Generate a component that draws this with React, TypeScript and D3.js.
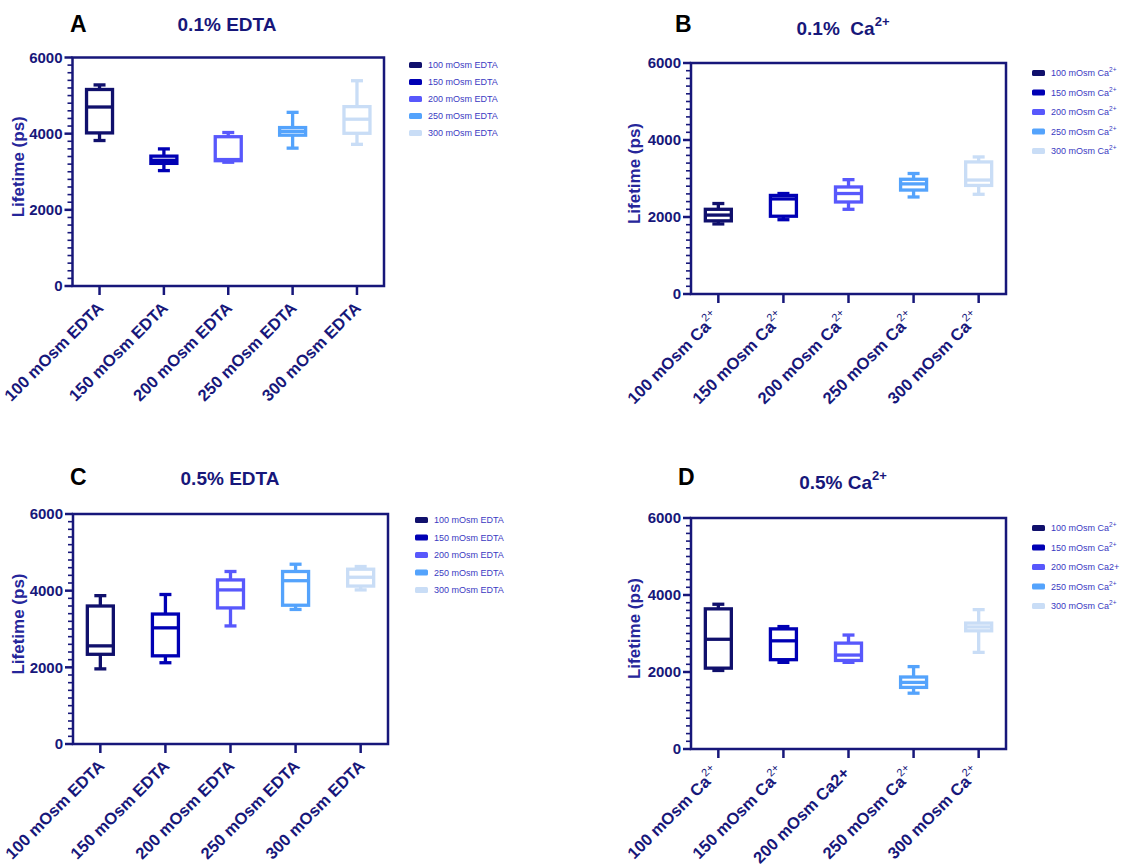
import React from "react";
import * as d3 from "d3";

// Category labels
const edtaLabels = ["100 mOsm EDTA", "150 mOsm EDTA", "200 mOsm EDTA", "250 mOsm EDTA", "300 mOsm EDTA"];
const caLabels = ["100 mOsm Ca", "150 mOsm Ca", "200 mOsm Ca", "250 mOsm Ca", "300 mOsm Ca"];
const caSups = ["2+", "2+", "2+", "2+", "2+"];
const caLabelsD = ["100 mOsm Ca", "150 mOsm Ca", "200 mOsm Ca2+", "250 mOsm Ca", "300 mOsm Ca"];
const caSupsD = ["2+", "2+", "", "2+", "2+"];
const noSups = ["", "", "", "", ""];

// Y axis ticks
const yMajorTicks = [0, 2000, 4000, 6000];
const yMinorStep = 200;
const yMax = 6000;

// Box summaries per group: [min, q1, median, q3, max] in ps
const edta01 = [
  [3820, 4020, 4700, 5160, 5280],
  [3030, 3220, 3300, 3410, 3600],
  [3250, 3290, 3320, 3920, 4030],
  [3620, 3960, 4060, 4160, 4560],
  [3720, 4010, 4380, 4710, 5390],
];
const ca01 = [
  [1820, 1900, 2050, 2200, 2350],
  [1930, 2020, 2470, 2560, 2610],
  [2200, 2390, 2610, 2780, 2970],
  [2520, 2700, 2860, 2980, 3130],
  [2590, 2820, 2960, 3430, 3560],
];
const edta05 = [
  [1960, 2340, 2560, 3600, 3870],
  [2120, 2300, 3030, 3390, 3900],
  [3080, 3550, 4020, 4280, 4500],
  [3510, 3620, 4260, 4500, 4690],
  [4020, 4120, 4350, 4560, 4630],
];
const ca05 = [
  [2040, 2100, 2850, 3640, 3760],
  [2250, 2320, 2810, 3120, 3180],
  [2250, 2300, 2440, 2750, 2960],
  [1450, 1600, 1730, 1870, 2140],
  [2510, 3070, 3170, 3270, 3620],
];

const NAVY = "#17177a";
const AXIS_TITLE = "#26269a";
const LEGEND_TEXT = "#3a3ac2";
const BOX_COLORS = ["#10106c", "#0000b4", "#5858fc", "#54a3fc", "#c9ddf6"];
const FONT = "'Liberation Sans', Arial, Helvetica, sans-serif";

type PanelSpec = {
  letter: string;
  title: string;
  titleSup: string;
  titleX: number;
  titleY: number;
  letterX: number;
  letterY: number;
  labels: string[];
  sups: string[];
  legendLabels: string[];
  legendSups: string[];
  stats: number[][];
  x0: number;
  x1: number;
  y0: number;
  y1: number;
  legendX: number;
  legendY: number;
  legendGap: number;
  labelDx: number;
  labelDy: number;
  axisTitleX: number;
};

const panels: PanelSpec[] = [
  {
    letter: "A", title: "0.1% EDTA", titleSup: "", titleX: 227, titleY: 31, letterX: 70, letterY: 32,
    labels: edtaLabels, sups: noSups, legendLabels: edtaLabels, legendSups: noSups, stats: edta01,
    x0: 72.5, x1: 384, y0: 57.5, y1: 286, legendX: 409, legendY: 65, legendGap: 17,
    labelDx: 5, labelDy: 23, axisTitleX: 24,
  },
  {
    letter: "B", title: "0.1%\u00a0 Ca", titleSup: "2+", titleX: 843, titleY: 35, letterX: 675, letterY: 32,
    labels: caLabels, sups: caSups, legendLabels: caLabels, legendSups: caSups, stats: ca01,
    x0: 691, x1: 1006, y0: 63, y1: 294, legendX: 1032, legendY: 73, legendGap: 19.5,
    labelDx: 2, labelDy: 25, axisTitleX: 640,
  },
  {
    letter: "C", title: "0.5% EDTA", titleSup: "", titleX: 230, titleY: 485, letterX: 70, letterY: 485,
    labels: edtaLabels, sups: noSups, legendLabels: edtaLabels, legendSups: noSups, stats: edta05,
    x0: 73, x1: 388, y0: 514, y1: 744, legendX: 415, legendY: 520, legendGap: 17.5,
    labelDx: 5, labelDy: 23, axisTitleX: 24,
  },
  {
    letter: "D", title: "0.5% Ca", titleSup: "2+", titleX: 843, titleY: 489, letterX: 678, letterY: 485,
    labels: caLabelsD, sups: caSupsD, legendLabels: caLabelsD, legendSups: caSupsD, stats: ca05,
    x0: 691, x1: 1006, y0: 518, y1: 749, legendX: 1032, legendY: 528, legendGap: 19.5,
    labelDx: 2, labelDy: 25, axisTitleX: 640,
  },
];

function BoxPanel({ p }: { p: PanelSpec }) {
  const keys = p.labels.map((l, i) => l + p.sups[i]);
  const x = d3.scalePoint<string>().domain(keys).range([p.x0, p.x1]).padding(0.42);
  const y = d3.scaleLinear().domain([0, yMax]).range([p.y1, p.y0]);
  const minorTicks = d3.range(0, yMax + 1, yMinorStep).filter((v) => !yMajorTicks.includes(v));
  const boxW = 26;
  const capW = 12;
  const midY = (p.y0 + p.y1) / 2 - 5;

  return (
    <g fontFamily={FONT}>
      {/* panel letter and title */}
      <text x={p.letterX} y={p.letterY} fontSize={23} fontWeight="bold" fill="#000">{p.letter}</text>
      <text x={p.titleX} y={p.titleY} fontSize={19} fontWeight="bold" fill={NAVY} textAnchor="middle">
        {p.title}
        {p.titleSup && <tspan fontSize={13} dy={-9}>{p.titleSup}</tspan>}
      </text>

      {/* frame */}
      <rect x={p.x0} y={p.y0} width={p.x1 - p.x0} height={p.y1 - p.y0} fill="none" stroke={NAVY} strokeWidth={2.5} />

      {/* y ticks */}
      {minorTicks.map((v) => (
        <line key={"mi" + v} x1={p.x0 - 5} x2={p.x0} y1={y(v)} y2={y(v)} stroke={NAVY} strokeWidth={1.6} />
      ))}
      {yMajorTicks.map((v) => (
        <g key={"ma" + v}>
          <line x1={p.x0 - 8} x2={p.x0} y1={y(v)} y2={y(v)} stroke={NAVY} strokeWidth={2.5} />
          <text x={p.x0 - 10} y={y(v)} dy="0.36em" textAnchor="end" fontSize={15} fontWeight="bold" fill={NAVY}>
            {v}
          </text>
        </g>
      ))}
      <text
        transform={`translate(${p.axisTitleX},${midY}) rotate(-90)`}
        textAnchor="middle"
        fontSize={17}
        fontWeight="bold"
        fill={AXIS_TITLE}
      >
        Lifetime (ps)
      </text>

      {/* x ticks and rotated labels */}
      {keys.map((k, i) => {
        const cx = x(k)!;
        return (
          <g key={"xt" + k}>
            <line x1={cx} x2={cx} y1={p.y1} y2={p.y1 + 9} stroke={NAVY} strokeWidth={2.5} />
            <text
              transform={`translate(${cx + p.labelDx},${p.y1 + p.labelDy}) rotate(-45)`}
              textAnchor="end"
              fontSize={16.5}
              fontWeight="bold"
              fill={NAVY}
            >
              {p.labels[i]}
              {p.sups[i] && (
                <tspan fontSize={11} fontWeight="normal" dy={-8}>{p.sups[i]}</tspan>
              )}
            </text>
          </g>
        );
      })}

      {/* boxes */}
      {keys.map((k, i) => {
        const [mn, q1, md, q3, mx] = p.stats[i];
        const cx = x(k)!;
        const c = BOX_COLORS[i];
        return (
          <g key={"bx" + k} stroke={c} strokeWidth={3.3} fill="none">
            <line x1={cx} x2={cx} y1={y(mx)} y2={y(q3)} />
            <line x1={cx} x2={cx} y1={y(q1)} y2={y(mn)} />
            <line x1={cx - capW / 2} x2={cx + capW / 2} y1={y(mx)} y2={y(mx)} />
            <line x1={cx - capW / 2} x2={cx + capW / 2} y1={y(mn)} y2={y(mn)} />
            <rect x={cx - boxW / 2} y={y(q3)} width={boxW} height={y(q1) - y(q3)} fill="#fff" />
            <line x1={cx - boxW / 2} x2={cx + boxW / 2} y1={y(md)} y2={y(md)} />
          </g>
        );
      })}

      {/* legend */}
      {p.legendLabels.map((l, i) => {
        const ly = p.legendY + i * p.legendGap;
        return (
          <g key={"lg" + i}>
            <rect x={p.legendX} y={ly - 3} width={13} height={6} rx={1.5} fill={BOX_COLORS[i]} />
            <text x={p.legendX + 19} y={ly} dy="0.35em" fontSize={9} fill={LEGEND_TEXT}>
              {l}
              {p.legendSups[i] && <tspan fontSize={6.5} dy={-4}>{p.legendSups[i]}</tspan>}
            </text>
          </g>
        );
      })}
    </g>
  );
}

export default function App() {
  return (
    <svg
      width={1125}
      height={868}
      viewBox="0 0 1125 868"
      style={{ position: "absolute", left: 0, top: 0, background: "#fff" }}
    >
      <rect width={1125} height={868} fill="#fff" />
      {panels.map((p) => (
        <BoxPanel key={p.letter} p={p} />
      ))}
    </svg>
  );
}
